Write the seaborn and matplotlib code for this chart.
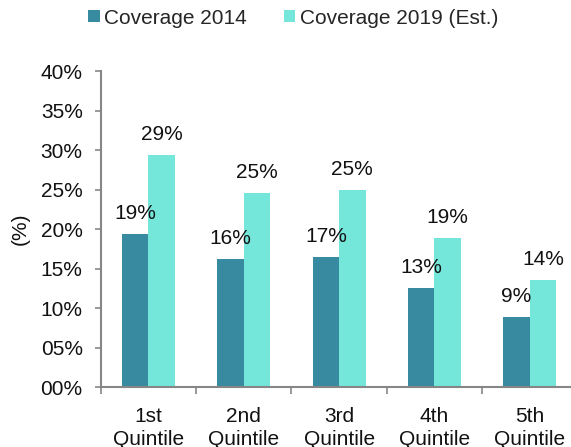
import matplotlib
matplotlib.use("Agg")
import matplotlib.pyplot as plt
import seaborn as sns
import pandas as pd
from matplotlib.ticker import FixedLocator

categories = ["1st\nQuintile", "2nd\nQuintile", "3rd\nQuintile", "4th\nQuintile", "5th\nQuintile"]
series_names = ["Coverage 2014", "Coverage 2019 (Est.)"]
cov_2014 = [19.4, 16.2, 16.5, 12.5, 8.9]
cov_2019 = [29.4, 24.6, 25.0, 18.9, 13.6]
labels_2014 = ["19%", "16%", "17%", "13%", "9%"]
labels_2019 = ["29%", "25%", "25%", "19%", "14%"]
y_ticks = [0, 5, 10, 15, 20, 25, 30, 35, 40]
y_tick_labels = ["00%", "05%", "10%", "15%", "20%", "25%", "30%", "35%", "40%"]

colors = ["#388AA0", "#75E6DA"]
axis_gray = "#868686"

sns.set_style("white")
plt.rcParams["font.family"] = ["Liberation Sans", "DejaVu Sans"]

df = pd.DataFrame({
    "Quintile": categories * 2,
    "Series": [series_names[0]] * len(categories) + [series_names[1]] * len(categories),
    "Value": cov_2014 + cov_2019,
})

fig = plt.figure(figsize=(5.71, 4.47), dpi=100)
ax = fig.add_axes([100.7 / 571, 1 - 387.3 / 447, (571 - 100.7) / 571, (387.3 - 71) / 447])

sns.barplot(data=df, x="Quintile", y="Value", hue="Series", palette=colors,
            width=0.555, saturation=1, linewidth=0, ax=ax, errorbar=None)

for cont, labs in zip(ax.containers, [labels_2014, labels_2019]):
    ax.bar_label(cont, labels=labs, padding=8, fontsize=15, color="#111111")

ax.set_ylim(0, 40)
ax.set_xlim(-0.5, 4.432)
ax.set_yticks(y_ticks)
ax.set_yticklabels(y_tick_labels, fontsize=15, color="#111111")
ax.tick_params(axis="y", length=4, width=1.2, color=axis_gray, pad=9, direction="out", left=True)

ax.set_xticks(range(len(categories)))
ax.set_xticklabels(categories, fontsize=15, color="#111111", linespacing=1.3)
ax.tick_params(axis="x", which="major", length=0, pad=14)
ax.xaxis.set_minor_locator(FixedLocator([-0.5, 0.5, 1.5, 2.5, 3.5]))
ax.tick_params(axis="x", which="minor", length=5, width=1.2, color=axis_gray, direction="out", bottom=True)

ax.set_xlabel("")
ax.set_ylabel("(%)", fontsize=15, color="#111111", labelpad=8)

for s in ["top", "right"]:
    ax.spines[s].set_visible(False)
for s in ["left", "bottom"]:
    ax.spines[s].set_color(axis_gray)
    ax.spines[s].set_linewidth(1.5)

handles, labels = ax.get_legend_handles_labels()
ax.get_legend().remove()
fig.legend(handles, labels, loc="center", bbox_to_anchor=(293 / 571, 1 - 18 / 447),
           ncol=2, frameon=False, fontsize=15, handlelength=0.55, handleheight=0.55,
           handletextpad=0.2, columnspacing=1.8, borderaxespad=0)

fig.savefig("out.png", dpi=100)
